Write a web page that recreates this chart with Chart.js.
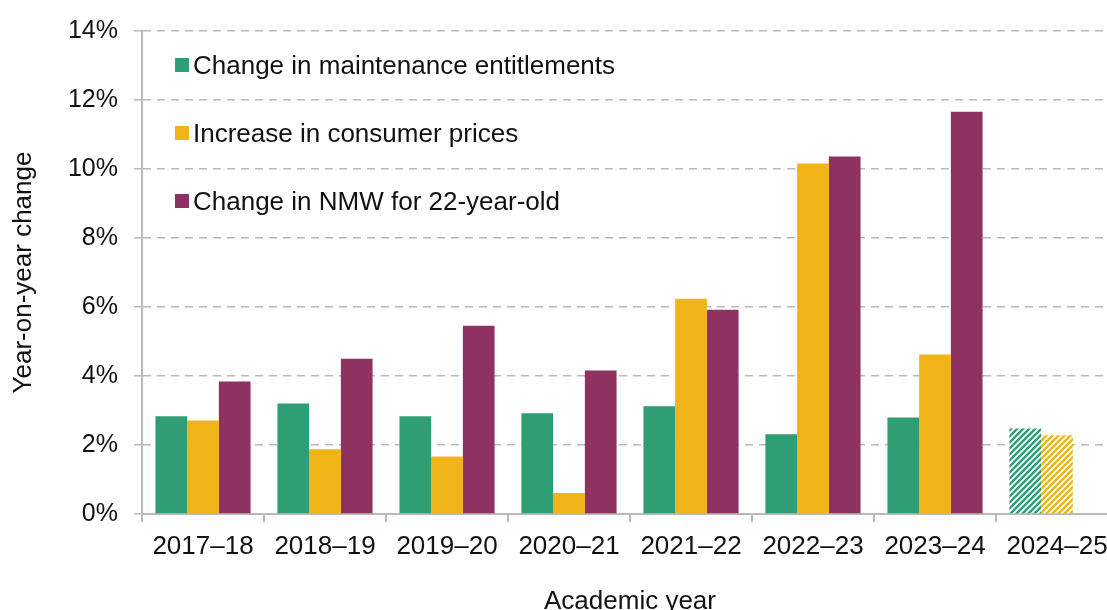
<!DOCTYPE html>
<html>
<head>
<meta charset="utf-8">
<script src="https://cdn.jsdelivr.net/npm/chart.js@4.4.1/dist/chart.umd.min.js"></script>
<style>
  html, body { margin: 0; padding: 0; background: #fff; overflow: hidden; }
  #wrap { position: relative; width: 1107px; height: 610px; overflow: hidden; }
  #chart { position: absolute; left: 0; top: 0; }
  #legend { position: absolute; left: 175px; top: 52px; font: 26px/26px "Liberation Sans", Arial, sans-serif; color: #111; }
  .item { display: flex; align-items: center; height: 26px; margin-bottom: 42px; white-space: nowrap; }
  .sw { width: 14px; height: 14px; margin-right: 4px; }
</style>
</head>
<body>
<div id="wrap">
  <canvas id="chart" width="1120" height="620" style="width:1120px;height:620px"></canvas>
  <div id="legend"></div>
</div>
<script>
const years = ["2017–18", "2018–19", "2019–20", "2020–21", "2021–22", "2022–23", "2023–24", "2024–25"];
const seriesNames = ["Change in maintenance entitlements", "Increase in consumer prices", "Change in NMW for 22-year-old"];
const maintenance = [2.83, 3.20, 2.83, 2.92, 3.12, 2.31, 2.80, 2.48];
const prices = [2.71, 1.88, 1.67, 0.61, 6.24, 10.16, 4.62, 2.28];
const nmw = [3.84, 4.50, 5.46, 4.16, 5.92, 10.36, 11.66, null];
const yTicks = [0, 2, 4, 6, 8, 10, 12, 14];
const forecastYear = "2024–25";

const colours = ["#309e74", "#f0b419", "#8e3361"];
const FONT = "'Liberation Sans', Arial, sans-serif";
const INK = "#111";
const GRID = "#bababa";

// diagonal stripes for the forecast year
function stripes(colour) {
  const c = document.createElement("canvas");
  c.width = 6; c.height = 6;
  const g = c.getContext("2d");
  g.fillStyle = "#fff";
  g.fillRect(0, 0, 6, 6);
  g.strokeStyle = colour;
  g.lineWidth = 2.4;
  g.beginPath();
  g.moveTo(-1, 7); g.lineTo(7, -1);
  g.moveTo(-4, 4); g.lineTo(4, -4);
  g.moveTo(2, 10); g.lineTo(10, 2);
  g.stroke();
  return g.createPattern(c, "repeat");
}

const forecastIdx = years.indexOf(forecastYear);
function fill(i) {
  const solid = colours[i];
  const hatch = stripes(solid);
  return ctx => ctx.dataIndex === forecastIdx ? hatch : solid;
}

const values = [maintenance, prices, nmw];

new Chart(document.getElementById("chart"), {
  type: "bar",
  data: {
    labels: years,
    datasets: values.map((v, i) => ({
      label: seriesNames[i],
      data: v,
      backgroundColor: fill(i),
      borderWidth: 0,
      categoryPercentage: 0.78,
      barPercentage: 1
    }))
  },
  options: {
    responsive: false,
    animation: false,
    layout: { padding: { top: 27, right: 2, left: 0, bottom: 0 } },
    plugins: { legend: { display: false }, tooltip: { enabled: false } },
    scales: {
      x: {
        grid: { drawOnChartArea: false, drawTicks: true, tickLength: 8, color: GRID, lineWidth: 2 },
        border: { color: GRID, width: 2 },
        ticks: { color: INK, font: { family: FONT, size: 26 }, padding: 9, maxRotation: 0 },
        title: { display: true, text: "Academic year", color: INK, font: { family: FONT, size: 26 }, padding: { top: 10, bottom: 3 } },
        afterFit: s => { s.height = 106; }
      },
      y: {
        min: 0,
        max: 14,
        afterBuildTicks: s => { s.ticks = yTicks.map(v => ({ value: v })); },
        grid: { color: GRID, lineWidth: 1.6, tickLength: 8, tickColor: GRID, tickBorderDash: [], tickWidth: 1.5 },
        border: { color: GRID, width: 2, dash: [8, 6] },
        ticks: { color: INK, font: { family: FONT, size: 25 }, padding: 16, callback: v => v + "%" },
        title: { display: true, text: "Year-on-year change", color: INK, font: { family: FONT, size: 26 }, padding: { top: 8, bottom: 0 } },
        afterFit: s => { s.width = 142; }
      }
    }
  }
});

// legend
const legend = document.getElementById("legend");
seriesNames.forEach((name, i) => {
  const item = document.createElement("div");
  item.className = "item";
  const sw = document.createElement("span");
  sw.className = "sw";
  sw.style.background = colours[i];
  const t = document.createElement("span");
  t.textContent = name;
  item.appendChild(sw);
  item.appendChild(t);
  legend.appendChild(item);
});
</script>
</body>
</html>
